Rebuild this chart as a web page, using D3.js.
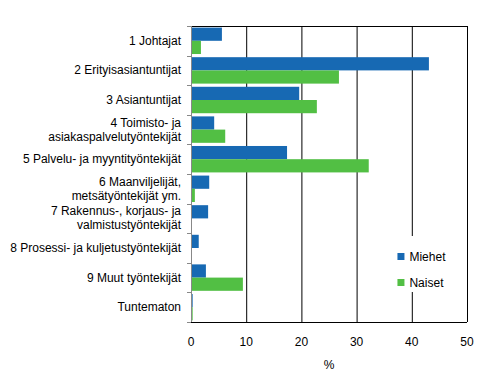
<!DOCTYPE html>
<html>
<head>
<meta charset="utf-8">
<script src="https://cdn.jsdelivr.net/npm/d3@7"></script>
<style>
  body { margin: 0; background: #fff; }
  text { font-family: "Liberation Sans", Arial, sans-serif; fill: #000; }
</style>
</head>
<body>
<div id="chart"></div>
<script>
// data
const categories = [
  ["1 Johtajat"],
  ["2 Erityisasiantuntijat"],
  ["3 Asiantuntijat"],
  ["4 Toimisto- ja", "asiakaspalvelutyöntekijät"],
  ["5 Palvelu- ja myyntityöntekijät"],
  ["6 Maanviljelijät,", "metsätyöntekijät ym."],
  ["7 Rakennus-, korjaus- ja", "valmistustyöntekijät"],
  ["8 Prosessi- ja kuljetustyöntekijät"],
  ["9 Muut työntekijät"],
  ["Tuntematon"]
];
const miehet = [5.6, 43.1, 19.6, 4.2, 17.4, 3.3, 3.1, 1.4, 2.7, 0.3];
const naiset = [1.8, 26.8, 22.8, 6.2, 32.2, 0.7, 0, 0, 9.4, 0.3];
const seriesNames = ["Miehet", "Naiset"];
const colors = ["#1769b3", "#52bf44"];
const xTicks = [0, 10, 20, 30, 40, 50];

const W = 500, H = 383;
const margin = { top: 26, right: 33, bottom: 61, left: 191 };
const width = W - margin.left - margin.right;
const height = H - margin.top - margin.bottom;

const svg = d3.select('#chart').append('svg')
  .attr('width', W).attr('height', H);
const g = svg.append('g').attr('transform', `translate(${margin.left},${margin.top})`);

const x = d3.scaleLinear().domain([0, 50]).range([0, width]);
const y = d3.scaleBand().domain(d3.range(categories.length)).range([0, height]);
const inner = d3.scaleBand().domain([0, 1]).range([0, y.bandwidth()]).paddingOuter(0.12);

// gridlines
g.selectAll('.grid').data(xTicks.slice(1)).enter().append('line')
  .attr('x1', d => x(d) + 0.5).attr('x2', d => x(d) + 0.5)
  .attr('y1', 0).attr('y2', height)
  .attr('stroke', '#000').attr('stroke-width', 1);
g.append('line').attr('x1', 0).attr('x2', width).attr('y1', 0.5).attr('y2', 0.5)
  .attr('stroke', '#000');

// bars
const rows = categories.map((c, i) => ({ i, vals: [miehet[i], naiset[i]] }));
const grp = g.selectAll('.cat').data(rows).enter().append('g')
  .attr('transform', d => `translate(0,${y(d.i)})`);
grp.selectAll('rect').data(d => d.vals.map((v, s) => ({ v, s }))).enter().append('rect')
  .attr('x', 0)
  .attr('y', d => inner(d.s))
  .attr('width', d => x(d.v))
  .attr('height', inner.bandwidth())
  .attr('fill', d => colors[d.s]);

// x axis
g.append('line').attr('x1', 0).attr('x2', width).attr('y1', height + 0.5).attr('y2', height + 0.5)
  .attr('stroke', '#000');
g.selectAll('.xt').data(xTicks).enter().append('text')
  .attr('x', d => x(d)).attr('y', height + 24)
  .attr('text-anchor', 'middle').style('font-size', '12px')
  .text(d => d);
g.append('text').attr('x', width / 2).attr('y', height + 47)
  .attr('text-anchor', 'middle').style('font-size', '12px').text('%');

// y axis
g.append('line').attr('x1', 0.5).attr('x2', 0.5).attr('y1', 0).attr('y2', height)
  .attr('stroke', '#888');
g.selectAll('.yt').data(d3.range(categories.length + 1)).enter().append('line')
  .attr('x1', -4).attr('x2', 0)
  .attr('y1', d => Math.round(d * y.step()) + 0.5).attr('y2', d => Math.round(d * y.step()) + 0.5)
  .attr('stroke', '#888');
const lbl = g.selectAll('.yl').data(categories).enter().append('text')
  .attr('text-anchor', 'end').style('font-size', '12px')
  .attr('transform', (d, i) => `translate(-10,${y(i) + y.bandwidth() / 2})`);
lbl.selectAll('tspan').data(d => d).enter().append('tspan')
  .attr('x', 0)
  .attr('y', (d, j, nodes) => (j - (nodes.length - 1) / 2) * 14 + 4)
  .text(d => d);

// legend
const leg = g.append('g').attr('transform', `translate(${x(37.4)},${height - 86})`);
leg.append('rect').attr('x', -4).attr('y', 0).attr('width', 60).attr('height', 56).attr('fill', '#fff');
seriesNames.forEach((n, i) => {
  leg.append('rect').attr('x', 0).attr('y', 17 + i * 26).attr('width', 7).attr('height', 7).attr('fill', colors[i]);
  leg.append('text').attr('x', 12).attr('y', 25 + i * 26).style('font-size', '12px').text(n);
});
</script>
</body>
</html>
